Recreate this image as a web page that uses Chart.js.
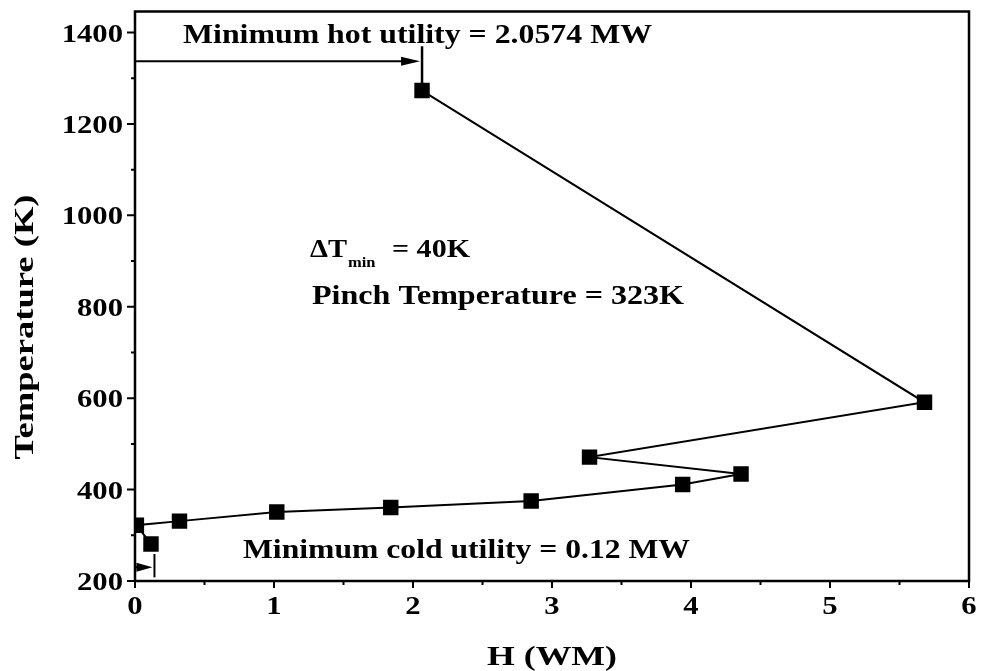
<!DOCTYPE html>
<html>
<head>
<meta charset="utf-8">
<script src="https://cdn.jsdelivr.net/npm/chart.js@4.4.0/dist/chart.umd.min.js"></script>
<style>
  body { margin: 0; background: #fff; }
  #wrap { width: 983px; height: 671px; }
</style>
</head>
<body>
<div id="wrap"><canvas id="myChart" width="983" height="671"></canvas></div>
<script>
// grand composite curve, H in MW, T in K
var hValues = [2.065, 5.68, 3.27, 4.36, 3.94, 2.85, 1.84, 1.02, 0.32, 0.01, 0.115]
var tValues = [1273, 591, 471, 434, 411, 375, 361, 351, 331, 322, 281]

var xTicks = [0, 1, 2, 3, 4, 5, 6]
var yTicks = [200, 400, 600, 800, 1000, 1200, 1400]

// utility arrows: [x start, x end, T]
var hotArrow = [0, 2.065, 1337]
var coldArrow = [0, 0.14, 230]

var points = []
for (var i = 0; i < hValues.length; i++) {
    points.push({ x: hValues[i], y: tValues[i] })
}

var serif = "'Liberation Serif', 'Times New Roman', serif"

// text stretched to a given width (the original font runs wide)
function wideText(ctx, txt, x, y, size, width, align) {
    ctx.font = 'bold ' + size + 'px ' + serif
    var w = ctx.measureText(txt).width
    var sx = width ? width / w : 1.18
    var left = x
    if (align === 'center') left = x - w * sx / 2
    if (align === 'right') left = x - w * sx
    ctx.save()
    ctx.translate(left, y)
    ctx.scale(sx, 1)
    ctx.textAlign = 'left'
    ctx.fillText(txt, 0, 0)
    ctx.restore()
    return w * sx
}

function arrow(ctx, x1, x2, y, head, half) {
    ctx.beginPath()
    ctx.moveTo(x1, y)
    ctx.lineTo(x2 - head + 2, y)
    ctx.stroke()
    ctx.beginPath()
    ctx.moveTo(x2, y)
    ctx.lineTo(x2 - head, y - half)
    ctx.lineTo(x2 - head, y + half)
    ctx.closePath()
    ctx.fill()
}

var extras = {
    id: 'extras',
    afterDraw: function(chart) {
        var ctx = chart.ctx
        var xs = chart.scales.x, ys = chart.scales.y
        var a = chart.chartArea
        ctx.save()
        ctx.strokeStyle = '#000'
        ctx.fillStyle = '#000'
        ctx.textBaseline = 'alphabetic'

        // frame
        ctx.lineWidth = 2.5
        ctx.strokeRect(a.left, a.top, a.right - a.left, a.bottom - a.top)

        // ticks
        ctx.lineWidth = 2
        ctx.beginPath()
        for (var v = 0; v <= 6; v += 0.5) {
            var px = xs.getPixelForValue(v)
            ctx.moveTo(px, a.bottom)
            ctx.lineTo(px, a.bottom + (v % 1 === 0 ? 7 : 4))
        }
        for (var t = 200; t < 1450; t += 100) {
            var py = ys.getPixelForValue(t)
            ctx.moveTo(a.left, py)
            ctx.lineTo(a.left - (t % 200 === 0 ? 8 : 4), py)
        }
        ctx.stroke()

        // tick labels
        xTicks.forEach(function(v) {
            wideText(ctx, String(v), xs.getPixelForValue(v), a.bottom + 33, 26, 0, 'center')
        })
        yTicks.forEach(function(v) {
            wideText(ctx, String(v), a.left - 12, ys.getPixelForValue(v) + 9, 26, 0, 'right')
        })

        // axis titles
        wideText(ctx, 'H (WM)', (a.left + a.right) / 2, 665, 27, 130, 'center')
        ctx.save()
        ctx.translate(33, 327)
        ctx.rotate(-Math.PI / 2)
        wideText(ctx, 'Temperature (K)', 0, 0, 28, 265, 'center')
        ctx.restore()

        // hot utility arrow
        ctx.lineWidth = 2
        var hy = ys.getPixelForValue(hotArrow[2])
        var hx = xs.getPixelForValue(hotArrow[1])
        arrow(ctx, xs.getPixelForValue(hotArrow[0]), hx - 2, hy, 19, 4.5)
        ctx.lineWidth = 2.5
        ctx.beginPath()
        ctx.moveTo(hx, ys.getPixelForValue(1370))
        ctx.lineTo(hx, ys.getPixelForValue(1284))
        ctx.stroke()

        // cold utility arrow
        ctx.lineWidth = 2
        var cy = ys.getPixelForValue(coldArrow[2])
        var cx = xs.getPixelForValue(coldArrow[1])
        arrow(ctx, xs.getPixelForValue(coldArrow[0]), cx - 2, cy, 16, 4.5)
        ctx.beginPath()
        ctx.moveTo(cx, ys.getPixelForValue(259))
        ctx.lineTo(cx, ys.getPixelForValue(208))
        ctx.stroke()

        // annotations
        wideText(ctx, 'Minimum hot utility = 2.0574 MW', 183, 43, 27, 469)
        wideText(ctx, 'Pinch Temperature = 323K', 312, 304, 27, 372)
        wideText(ctx, 'Minimum cold utility = 0.12 MW', 243, 558, 27, 447)

        wideText(ctx, '\u0394T', 310, 257, 25, 37)
        wideText(ctx, 'min', 348, 267, 14, 0)
        wideText(ctx, '= 40K', 470, 257, 25, 78, 'right')

        ctx.restore()
    }
}

var myChart = document.getElementById("myChart").getContext('2d')

var chart = new Chart(myChart, {
    type: 'scatter',
    data: {
        datasets: [{
            label: 'GCC',
            data: points,
            showLine: true,
            borderColor: '#000',
            backgroundColor: '#000',
            borderWidth: 2,
            pointStyle: 'rect',
            pointRadius: 9.5,
            pointHoverRadius: 9.5,
            tension: 0
        }]
    },
    options: {
        responsive: false,
        animation: false,
        layout: { padding: { top: 10, right: 14, left: 0, bottom: 0 } },
        plugins: {
            legend: { display: false },
            tooltip: { enabled: false }
        },
        scales: {
            x: {
                type: 'linear',
                min: 0,
                max: 6,
                afterFit: function(scale) { scale.height = 90 },
                grid: { display: false },
                border: { display: false },
                ticks: { display: false }
            },
            y: {
                type: 'linear',
                min: 200,
                max: 1446,
                afterFit: function(scale) { scale.width = 135 },
                grid: { display: false },
                border: { display: false },
                ticks: { display: false }
            }
        }
    },
    plugins: [extras]
})
</script>
</body>
</html>
